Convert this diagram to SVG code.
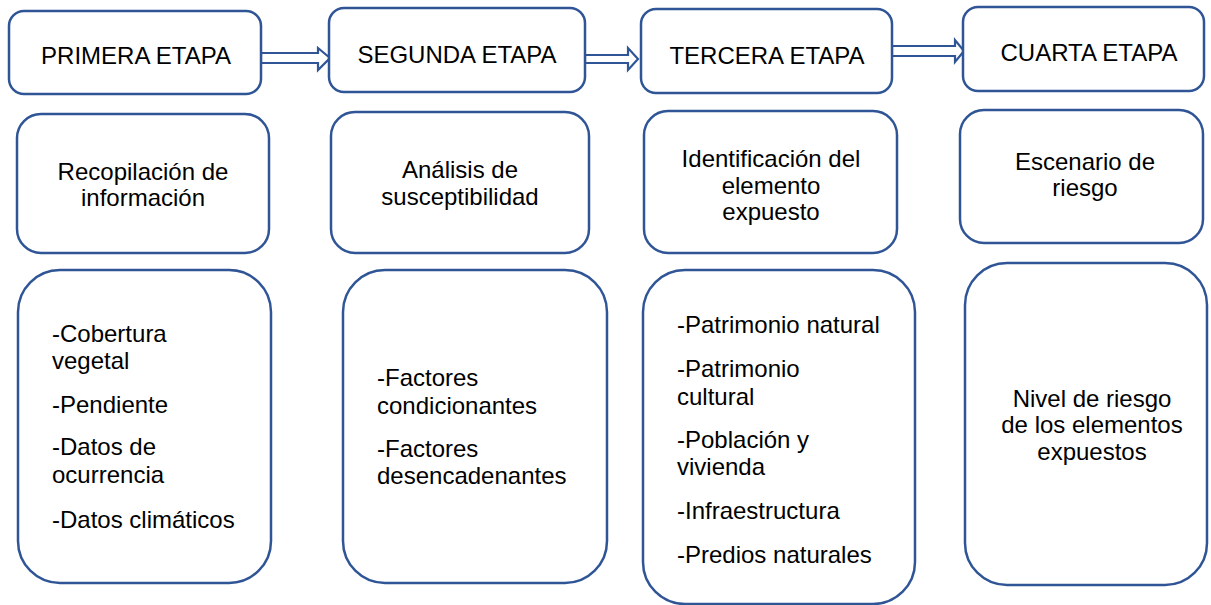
<svg xmlns="http://www.w3.org/2000/svg" width="1211" height="605" viewBox="0 0 1211 605">
<style>
.box{fill:#fff;stroke:#2F5597;stroke-width:2.5}
.arr{fill:#fff;stroke:#2F5597;stroke-width:2.2;stroke-linejoin:miter}
text{font-family:"Liberation Sans",Arial,sans-serif;font-size:24px;fill:#000}
.c{text-anchor:middle}
</style>
<rect width="1211" height="605" fill="#fff"/>
<g id="connectors">
<polygon class="arr" points="261,53 318,53 318,48 330,58 318,70 318,63 261,63"/>
<polygon class="arr" points="585,55 628,55 628,48 638,59 628,70 628,63 585,63"/>
<polygon class="arr" points="892,46 955,46 955,40 964,51 955,62 955,56 892,56"/>
</g>
<g id="etapa1">
<rect class="box" x="9" y="11" width="252" height="83" rx="15"/>
<text class="c" x="136" y="64">PRIMERA ETAPA</text>
</g>
<g id="etapa2">
<rect class="box" x="329" y="8" width="256" height="84" rx="15"/>
<text class="c" x="457" y="63">SEGUNDA ETAPA</text>
</g>
<g id="etapa3">
<rect class="box" x="641" y="9" width="251" height="84" rx="15"/>
<text class="c" x="767" y="64">TERCERA ETAPA</text>
</g>
<g id="etapa4">
<rect class="box" x="963" y="7" width="241" height="84" rx="15"/>
<text class="c" x="1089" y="61">CUARTA ETAPA</text>
</g>
<g id="recopilacion">
<rect class="box" x="17" y="114" width="252" height="139" rx="24"/>
<text class="c" x="143" y="180">Recopilación de</text>
<text class="c" x="143" y="206">información</text>
</g>
<g id="analisis">
<rect class="box" x="331" y="112" width="258" height="141" rx="24"/>
<text class="c" x="460" y="178">Análisis de</text>
<text class="c" x="460" y="205">susceptibilidad</text>
</g>
<g id="identificacion">
<rect class="box" x="644" y="111" width="253" height="142" rx="24"/>
<text class="c" x="771" y="167">Identificación del</text>
<text class="c" x="771" y="194">elemento</text>
<text class="c" x="771" y="220">expuesto</text>
</g>
<g id="escenario">
<rect class="box" x="960" y="110" width="243" height="133" rx="24"/>
<text class="c" x="1085" y="170">Escenario de</text>
<text class="c" x="1085" y="196">riesgo</text>
</g>
<g id="lista1">
<rect class="box" x="18" y="270" width="253" height="313" rx="42"/>
<text x="52" y="342">-Cobertura</text>
<text x="52" y="369">vegetal</text>
<text x="52" y="413">-Pendiente</text>
<text x="52" y="455">-Datos de</text>
<text x="52" y="483">ocurrencia</text>
<text x="52" y="528">-Datos climáticos</text>
</g>
<g id="lista2">
<rect class="box" x="343" y="270" width="264" height="313" rx="42"/>
<text x="377" y="386">-Factores</text>
<text x="377" y="414">condicionantes</text>
<text x="377" y="457">-Factores</text>
<text x="377" y="484">desencadenantes</text>
</g>
<g id="lista3">
<rect class="box" x="643" y="270" width="272" height="334" rx="42"/>
<text x="677" y="333">-Patrimonio natural</text>
<text x="677" y="377">-Patrimonio</text>
<text x="677" y="405">cultural</text>
<text x="677" y="448">-Población y</text>
<text x="677" y="475">vivienda</text>
<text x="677" y="519">-Infraestructura</text>
<text x="677" y="563">-Predios naturales</text>
</g>
<g id="nivel">
<rect class="box" x="965" y="263" width="242" height="322" rx="42"/>
<text class="c" x="1092" y="407">Nivel de riesgo</text>
<text class="c" x="1092" y="433">de los elementos</text>
<text class="c" x="1092" y="460">expuestos</text>
</g>
</svg>
